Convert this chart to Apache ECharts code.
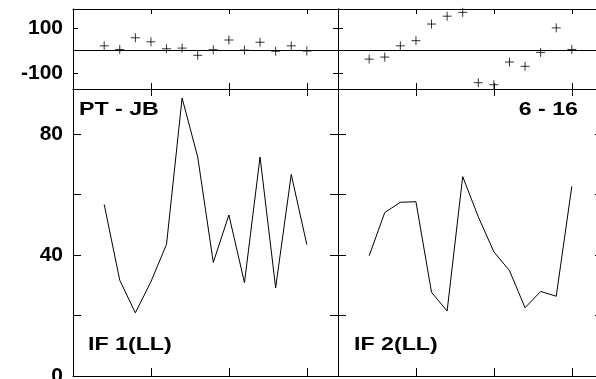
<!DOCTYPE html>
<html><head><meta charset="utf-8">
<script src="https://cdn.jsdelivr.net/npm/echarts@6/dist/echarts.min.js"></script>
<style>html,body{margin:0;padding:0;background:#fff}#c{width:596px;height:379px}</style>
</head><body><div id="c"></div>
<script>
// ---- data ----
const xIndex = [2,3,4,5,6,7,8,9,10,11,12,13,14,15];
const if1Values = [56.8,31.7,20.9,31.2,43.6,92,72.5,37.6,53.3,30.9,72.5,29.2,66.7,43.5];
const if2Values = [39.8,54.1,57.5,57.7,27.7,21.5,66,52.7,41.1,34.9,22.6,28,26.4,62.8];
const if1Resid = [20,4,56,38,7,10,-22,3,46,1,36,-4,20,-3];
const if2Resid = [-39,-30,20,43,117,152,169,-144,-153,-52,-71,-9,100,4];
const xTicks = [5,10,15];
const mainTicks = [20,40,60,80];
const mainLabels = [0,40,80];
const residTicks = [-100,100];
const residLabels = [-100,100];
const panelTitles = ['IF 1(LL)','IF 2(LL)'];
const headerLeft = 'PT - JB';
const headerRight = '6 - 16';

// ---- layout ----
const FONT = '"Liberation Sans", Arial, sans-serif';
const X_MIN = 0, X_MAX = 17;
const MAIN_MIN = 0, MAIN_MAX = 95;
const RES_MIN = -172, RES_MAX = 184;
const gridBase = {outerBoundsMode:'none', containLabel:false};
const grids = [
  Object.assign({left:73, top:9, width:265, height:80}, gridBase),
  Object.assign({left:73, top:89, width:265, height:287}, gridBase),
  Object.assign({left:338, top:9, width:265, height:80}, gridBase),
  Object.assign({left:338, top:89, width:265, height:287}, gridBase)
];
const black = '#000';

function xAx(g, pos, len){
  return {type:'value', gridIndex:g, position:pos, min:X_MIN, max:X_MAX,
    axisLine:{show:true, onZero:false, lineStyle:{color:black, width:1}},
    axisTick:{show:true, inside:true, length:len, customValues:xTicks, lineStyle:{color:black, width:1}},
    axisLabel:{show:false}, splitLine:{show:false}};
}
function yAx(g, pos, min, max, ticks, labels, len, showLab){
  return {type:'value', gridIndex:g, position:pos, min:min, max:max,
    axisLine:{show:true, onZero:false, lineStyle:{color:black, width:1}},
    axisTick:{show:true, inside:true, length:len, customValues:ticks, lineStyle:{color:black, width:1}},
    axisLabel:{show:showLab, customValues:labels, fontSize:21, fontWeight:'bold', fontFamily:FONT, color:black, margin:10},
    splitLine:{show:false}};
}

const xAxes = [
  xAx(0,'bottom',6), xAx(0,'top',5),
  xAx(1,'bottom',8), xAx(1,'top',7),
  xAx(2,'bottom',6), xAx(2,'top',5),
  xAx(3,'bottom',8), xAx(3,'top',7)
];
const yAxes = [
  yAx(0,'left',RES_MIN,RES_MAX,residTicks,residLabels,5,true),
  yAx(0,'right',RES_MIN,RES_MAX,residTicks,[],5,false),
  yAx(1,'left',MAIN_MIN,MAIN_MAX,mainTicks,mainLabels,8,true),
  yAx(1,'right',MAIN_MIN,MAIN_MAX,mainTicks,[],8,false),
  yAx(2,'left',RES_MIN,RES_MAX,residTicks,[],5,false),
  yAx(2,'right',RES_MIN,RES_MAX,residTicks,[],5,false),
  yAx(3,'left',MAIN_MIN,MAIN_MAX,mainTicks,[],8,false),
  yAx(3,'right',MAIN_MIN,MAIN_MAX,mainTicks,[],8,false)
];

function pairs(vals){ return xIndex.map((x,i)=>[x, vals[i]]); }
function resSeries(ax, vals){
  return {type:'scatter', xAxisIndex:ax, yAxisIndex:ax, data:pairs(vals),
    symbol:'path://M0 5L10 5M5 0L5 10', symbolSize:9,
    itemStyle:{color:'transparent', borderColor:black, borderWidth:1},
    silent:true,
    markLine:{silent:true, symbol:'none', label:{show:false},
      lineStyle:{color:black, width:1, type:'solid'}, data:[{yAxis:0}]}};
}
function lineSeries(ax, vals){
  return {type:'line', xAxisIndex:ax, yAxisIndex:ax, data:pairs(vals), symbol:'none',
    lineStyle:{color:black, width:1}, silent:true};
}

function txt(x, y, s, align){
  return {type:'text', x:x, y:y, scaleX:1.22, silent:true,
    style:{text:s, font:'bold 19px ' + FONT, fill:black,
      align:align, verticalAlign:'middle', textAlign:align, textVerticalAlign:'middle'}};
}

const chart = echarts.init(document.getElementById('c'), null, {renderer:'canvas'});
chart.setOption({
  animation:false,
  backgroundColor:'#fff',
  grid:grids,
  xAxis:xAxes,
  yAxis:yAxes,
  series:[
    resSeries(0, if1Resid),
    lineSeries(2, if1Values),
    resSeries(4, if2Resid),
    lineSeries(6, if2Values)
  ],
  graphic:[
    txt(79, 109.5, headerLeft, 'left'),
    txt(578, 109.5, headerRight, 'right'),
    txt(88, 344.5, panelTitles[0], 'left'),
    txt(354, 344.5, panelTitles[1], 'left')
  ]
});
</script>
</body></html>
